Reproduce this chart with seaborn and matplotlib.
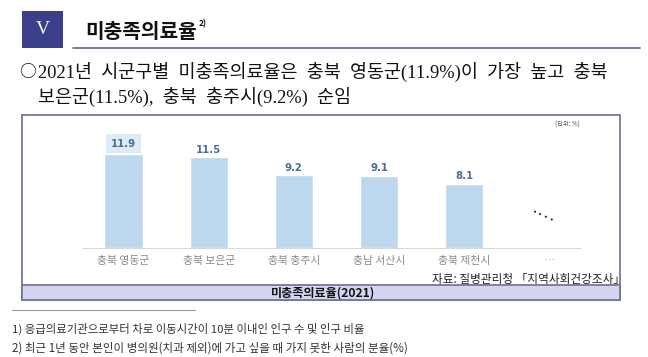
#!/usr/bin/env python3
"""
Unmet medical need rate by region (2021) - report page excerpt.
"""

import matplotlib
matplotlib.use("Agg")
import matplotlib.pyplot as plt
import pandas as pd
import seaborn as sns
from matplotlib.patches import Rectangle

# data
regions = ["충북 영동군", "충북 보은군", "충북 충주시", "충남 서산시", "충북 제천시", "…"]
rates = [11.9, 11.5, 9.2, 9.1, 8.1]

section_no = "V"
section_title = "미충족의료율"
summary_lines = [
    "2021년  시군구별  미충족의료율은  충북  영동군(11.9%)이  가장  높고  충북",
    "보은군(11.5%),  충북  충주시(9.2%)  순임",
]
unit_note = "(단위: %)"
source_note = "자료: 질병관리청 「지역사회건강조사」"
caption = "미충족의료율(2021)"
footnotes = [
    "1) 응급의료기관으로부터 차로 이동시간이 10분 이내인 인구 수 및 인구 비율",
    "2) 최근 1년 동안 본인이 병의원(치과 제외)에 가고 싶을 때 가지 못한 사람의 분율(%)",
]

W, H = 648, 357
KR = ["Noto Sans CJK KR", "DejaVu Sans"]
SERIF_KR = ["Liberation Serif", "Noto Sans CJK KR"]


def draw_page(page):
    """Header, summary text, frame and footnotes in pixel coordinates."""
    page.set_xlim(0, W)
    page.set_ylim(H, 0)
    page.axis("off")

    # section badge + title
    page.add_patch(Rectangle((22, 11), 41, 37, facecolor="#3b3e88", edgecolor="none"))
    page.text(42.5, 30, section_no, color="white", fontsize=14, ha="center", va="center",
              family=["Liberation Serif"])
    page.text(85, 31, section_title, fontsize=14.6, fontweight="heavy", color="#111111",
              ha="left", va="center", family=KR)
    page.text(199, 24, "2)", fontsize=6, fontweight="bold", color="#111111",
              ha="left", va="center", family=KR)
    page.plot([73, 640], [48, 48], color="#6d6f9a", lw=1.3)

    # summary
    page.text(19, 72, "○", fontsize=12, color="#111111", ha="left", va="center", family=KR)
    page.text(38, 72, summary_lines[0], fontsize=13.3, color="#111111", ha="left",
              va="center", family=SERIF_KR)
    page.text(38, 97, summary_lines[1], fontsize=13.3, color="#111111", ha="left",
              va="center", family=SERIF_KR)

    # chart frame + caption bar
    page.add_patch(Rectangle((22, 115), 598, 185, facecolor="white", edgecolor="#76769c", lw=1.3))
    page.add_patch(Rectangle((22, 285), 598, 15, facecolor="#d5d5ef", edgecolor="#76769c", lw=1.3))
    page.text(323, 293, caption, fontsize=8.7, fontweight="bold", color="#111111",
              ha="center", va="center", family=KR)
    page.text(580, 125, unit_note, fontsize=4.5, color="#555555", ha="right",
              va="center", family=KR)
    page.text(432, 279, source_note, fontsize=8.4, color="#222222", ha="left",
              va="center", family=KR)

    # footnotes
    page.plot([12, 195], [310, 310], color="#9a9a9a", lw=0.8)
    page.text(12, 329, footnotes[0], fontsize=8.2, color="#333333", ha="left",
              va="center", family=KR)
    page.text(12, 348, footnotes[1], fontsize=8.3, color="#333333", ha="left",
              va="center", family=KR)


def draw_chart(ax):
    """Bar chart of the unmet medical need rate."""
    df = pd.DataFrame({"region": regions[:len(rates)], "rate": rates})
    sns.barplot(data=df, x="region", y="rate", order=regions, color="#bdd7ee",
                saturation=1, width=0.45, ax=ax)

    ax.set_xlim(-0.476, 5.36)
    ax.set_ylim(0, 16.46)
    ax.set_xlabel("")
    ax.set_ylabel("")
    ax.set_yticks([])
    ax.set_facecolor("none")
    for side in ["top", "left", "right"]:
        ax.spines[side].set_visible(False)
    ax.spines["bottom"].set_color("#d9d9d9")
    ax.spines["bottom"].set_linewidth(0.8)
    ax.tick_params(axis="x", length=0, pad=6, labelsize=7.8, labelcolor="#8a8a8a")
    for lbl in ax.get_xticklabels():
        lbl.set_family(KR)

    # value labels
    for i, v in enumerate(rates):
        box = None
        if i == 0:
            box = dict(boxstyle="square,pad=0.45", facecolor="#deebf7", edgecolor="none")
        ax.annotate(f"{v:.1f}", (i, v), xytext=(0, 7.5 if i == 0 else 5.5),
                    textcoords="offset points", ha="center", va="center",
                    fontsize=7.3, fontweight="bold", color="#4a6d96", bbox=box,
                    family=["DejaVu Sans"])

    # trailing "more" marker
    ax.text(len(regions) - 1.08, 3.9, "····", fontsize=8, fontweight="bold",
            rotation=-25, ha="center", va="center", color="#111111")


def main():
    sns.set_theme(style="white")
    plt.rcParams["font.family"] = KR

    fig = plt.figure(figsize=(W / 100, H / 100), dpi=100)
    page = fig.add_axes([0, 0, 1, 1], zorder=0)
    draw_page(page)

    ax = fig.add_axes([83 / W, (H - 248) / H, 497 / W, 130 / H], zorder=1)
    draw_chart(ax)

    fig.savefig("out.png", dpi=100)
    print("saved out.png")
    plt.close(fig)


if __name__ == "__main__":
    main()
